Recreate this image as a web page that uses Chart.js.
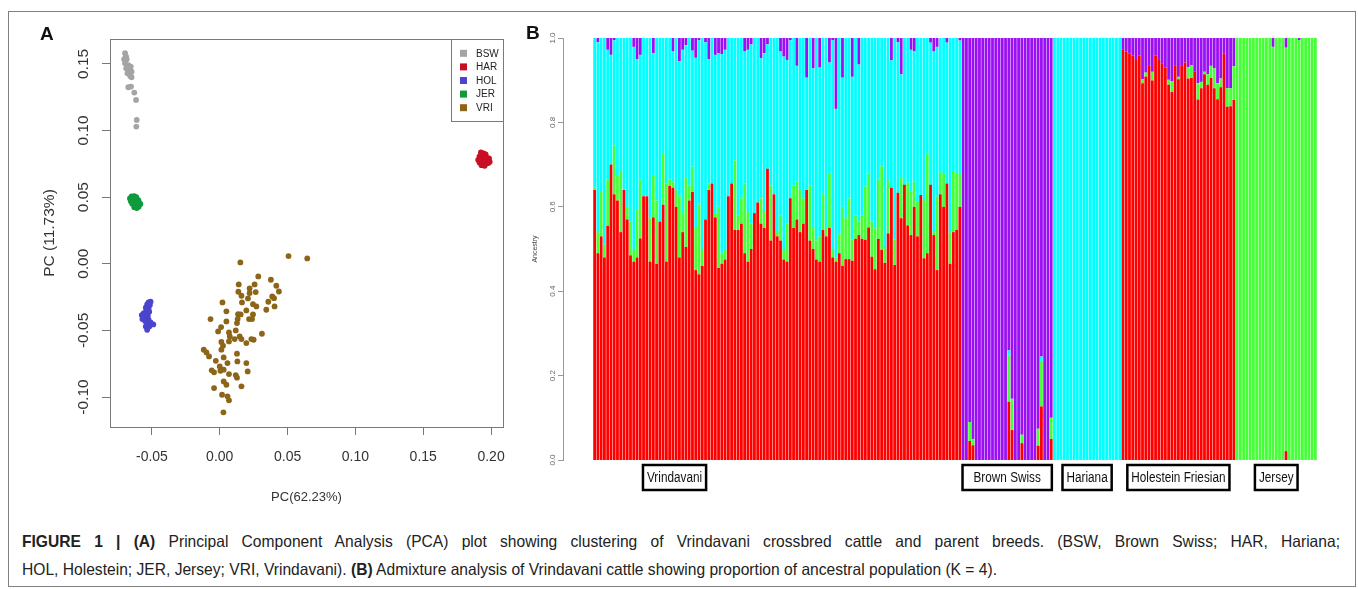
<!DOCTYPE html>
<html><head><meta charset="utf-8">
<script src="https://cdn.jsdelivr.net/npm/chart.js@4.4.1/dist/chart.umd.min.js"></script>
<style>
html,body{margin:0;padding:0;background:#fff;width:1358px;height:589px;overflow:hidden;font-family:"Liberation Sans",Arial,sans-serif;}
#frame{position:absolute;left:8px;top:11px;width:1348px;height:576px;border:1.5px solid #808080;box-sizing:border-box;}
#cA{position:absolute;left:0;top:0;}
#cB{position:absolute;left:520px;top:0;}
.lab{position:absolute;font-weight:bold;font-size:19px;color:#111;line-height:19px;}
#cap{position:absolute;left:22px;top:527px;font-size:16.5px;line-height:28px;color:#222;}
#cap .ln{display:inline-block;white-space:nowrap;transform-origin:0 50%;}
#cap b{font-weight:bold;}
</style></head>
<body>
<div id="frame"></div>
<canvas id="cA" width="520" height="520"></canvas>
<canvas id="cB" width="838" height="500"></canvas>
<div class="lab" style="left:40px;top:24px;">A</div>
<div class="lab" style="left:526px;top:23px;">B</div>
<div id="cap"><span id="l1" class="ln"><b>FIGURE 1 | (A)</b> Principal Component Analysis (PCA) plot showing clustering of Vrindavani crossbred cattle and parent breeds. (BSW, Brown Swiss; HAR, Hariana;</span><br><span id="l2" class="ln">HOL, Holestein; JER, Jersey; VRI, Vrindavani). <b>(B)</b> Admixture analysis of Vrindavani cattle showing proportion of ancestral population (K = 4).</span></div>
<script>
// ---------------- Panel A data (PCA) ----------------
const pcaSeriesNames = ['BSW','HAR','HOL','JER','VRI'];
const pcaXTicks = [-0.05, 0.00, 0.05, 0.10, 0.15, 0.20];
const pcaYTicks = [-0.10, -0.05, 0.00, 0.05, 0.10, 0.15];
const pcaXTitle = 'PC(62.23%)';
const pcaYTitle = 'PC (11.73%)';
const bswPoints = [[-0.0698,0.158],[-0.069,0.1555],[-0.0705,0.1535],[-0.0686,0.1535],[-0.0698,0.1505],[-0.0674,0.149],[-0.0656,0.148],[-0.069,0.1467],[-0.0667,0.145],[-0.065,0.1442],[-0.068,0.143],[-0.066,0.141],[-0.065,0.14],[-0.0674,0.1325],[-0.0654,0.133],[-0.063,0.1285],[-0.0617,0.123],[-0.0612,0.108],[-0.0615,0.103]];
const harPoints = [[0.1925,0.0835],[0.1945,0.0828],[0.1960,0.0820],[0.1915,0.0805],[0.1935,0.0800],[0.1970,0.0795],[0.1985,0.0790],[0.1905,0.0780],[0.1925,0.0775],[0.1950,0.0772],[0.1975,0.0770],[0.1990,0.0765],[0.1915,0.0760],[0.1940,0.0752],[0.1960,0.0748],[0.1980,0.0756],[0.1930,0.0740],[0.1952,0.0735]];
const holPoints = [[-0.0525,-0.0290],[-0.0510,-0.0285],[-0.0535,-0.0305],[-0.0515,-0.0310],[-0.0545,-0.0330],[-0.0525,-0.0335],[-0.0540,-0.0355],[-0.0520,-0.0360],[-0.0560,-0.0370],[-0.0545,-0.0380],[-0.0575,-0.0385],[-0.0530,-0.0390],[-0.0555,-0.0400],[-0.0540,-0.0410],[-0.0570,-0.0415],[-0.0525,-0.0420],[-0.0550,-0.0430],[-0.0510,-0.0440],[-0.0535,-0.0445],[-0.0490,-0.0455],[-0.0545,-0.0470],[-0.0520,-0.0470],[-0.0535,-0.0495]];
const jerPoints = [[-0.0650,0.0505],[-0.0630,0.0508],[-0.0615,0.0500],[-0.0662,0.0490],[-0.0640,0.0488],[-0.0620,0.0482],[-0.0600,0.0478],[-0.0655,0.0470],[-0.0635,0.0465],[-0.0610,0.0462],[-0.0590,0.0455],[-0.0645,0.0450],[-0.0625,0.0446],[-0.0605,0.0440],[-0.0585,0.0448],[-0.0630,0.0425],[-0.0612,0.0418],[-0.0598,0.0428]];
const vriPoints = [[0.0152,0.001],[0.0507,0.0058],[0.0645,0.004],[0.0284,-0.0095],[0.0377,-0.012],[0.014,-0.0155],[0.0257,-0.0155],[0.022,-0.0185],[0.0417,-0.0165],[0.0436,-0.0208],[0.0137,-0.021],[0.0265,-0.0212],[0.022,-0.022],[0.016,-0.024],[0.0387,-0.0245],[0.0208,-0.026],
[0.002,-0.029],[0.0358,-0.0285],[0.040,-0.0258],[0.0245,-0.0303],[0.027,-0.032],[0.0164,-0.029],[0.0049,-0.0357],[0.0154,-0.038],[0.0135,-0.0378],[0.0196,-0.035],[0.0343,-0.0345],[0.0404,-0.032],[0.0245,-0.038],[-0.0068,-0.0415],[0.0132,-0.0415],[0.0216,-0.0415],[0.0238,-0.0415],[0.0127,-0.0445],[0.0049,-0.0433],[0.001,-0.0475],[-0.0012,-0.0508],[0.0118,-0.05],[0.0068,-0.0515],[0.0074,-0.0545],[0.0147,-0.0545],[0.0311,-0.0525],[0.011,-0.0565],[0.016,-0.0565],[0.0233,-0.0565],[0.025,-0.057],[0.0196,-0.0595],[0.0012,-0.0587],[0.0068,-0.0583],[0.0024,-0.0615],[0.0012,-0.0645],[-0.0118,-0.0645],[-0.0098,-0.0665],[-0.0079,-0.0695],[0.0029,-0.0703],[0.0127,-0.0675],[0.013,-0.0733],[-0.0029,-0.0728],[0.0057,-0.0745],[0.0196,-0.0745],[0,-0.077],[-0.0059,-0.08],[-0.0042,-0.0815],[0.0005,-0.0803],[0.0029,-0.0795],[0.0206,-0.0808],[0.0068,-0.0828],[0.0118,-0.0835],[0.0127,-0.0855],[0.0029,-0.0883],[0.0049,-0.0908],[-0.0042,-0.0933],[0.016,-0.092],[0.0017,-0.0983],[0.0057,-0.0995],[0.0068,-0.1025],[0.0027,-0.1115]];

// ---------------- Panel B data (ADMIXTURE K=4) ----------------
const groupNames = ['Vrindavani','Brown Swiss','Hariana','Holestein Friesian','Jersey'];
const groupIds = ['VRI','BSW','HAR','HOL','JER'];
const admixYTicks = [0.0, 0.2, 0.4, 0.6, 0.8, 1.0];
const admixYTitle = 'Ancestry';
// components: red, green, cyan, purple (bottom -> top)
const vriRed = [0.64,0.49,0.53,0.48,0.555,0.70,0.63,0.615,0.54,0.64,
0.57,0.485,0.47,0.48,0.525,0.625,0.625,0.47,0.575,0.465,
0.565,0.605,0.47,0.65,0.645,0.60,0.48,0.54,0.505,0.615,
0.635,0.45,0.44,0.46,0.57,0.64,0.655,0.575,0.455,0.465,
0.475,0.625,0.655,0.545,0.545,0.56,0.49,0.47,0.50,0.585,
0.61,0.56,0.55,0.69,0.52,0.63,0.53,0.52,0.475,0.47,
0.62,0.55,0.57,0.54,0.56,0.64,0.52,0.50,0.475,0.47,
0.545,0.53,0.55,0.48,0.47,0.49,0.46,0.476,0.476,0.472,
0.524,0.533,0.524,0.522,0.551,0.482,0.452,0.524,0.498,0.467,
0.537,0.645,0.462,0.633,0.573,0.652,0.556,0.533,0.60,0.53,
0.628,0.478,0.49,0.652,0.533,0.45,0.63,0.60,0.655,0.465,
0.54,0.545,0.60];
const vriGreen = [0.005,0.05,0.105,0.03,0.11,0,0.115,0.06,0.145,0,
0.03,0.08,0.03,0.115,0.14,0,0,0.105,0.10,0.15,
0,0.12,0.185,0.015,0.015,0.04,0.145,0.045,0.165,0.035,
0.06,0.10,0.165,0.04,0,0.015,0,0.01,0.145,0.025,
0.025,0,0,0.165,0.035,0.06,0.165,0.12,0.06,0,
0,0.06,0.04,0,0.13,0,0.01,0.06,0.025,0.09,
0,0.10,0.09,0.10,0.06,0,0.13,0.05,0.045,0.06,
0.085,0.02,0.13,0.02,0.01,0.045,0.14,0.097,0.144,0.05,
0.056,0.032,0.056,0.126,0.128,0.083,0.097,0.14,0.198,0.035,
0.127,0,0.06,0,0.095,0,0.101,0.103,0.06,0.082,
0,0.138,0.237,0,0.007,0.175,0.053,0.08,0,0.075,
0.145,0.135,0.08];
const vriCyan = [0.355,0.45,0.365,0.49,0.307,0.26,0.25,0.325,0.315,0.36,
0.40,0.435,0.479,0.355,0.295,0.375,0.375,0.425,0.289,0.385,
0.435,0.275,0.345,0.335,0.308,0.36,0.32,0.387,0.313,0.35,
0.275,0.403,0.39,0.50,0.42,0.295,0.345,0.375,0.364,0.472,
0.472,0.375,0.345,0.29,0.42,0.38,0.313,0.382,0.425,0.415,
0.39,0.332,0.374,0.295,0.35,0.37,0.46,0.388,0.456,0.388,
0.375,0.35,0.274,0.36,0.38,0.266,0.35,0.378,0.48,0.40,
0.37,0.45,0.262,0.495,0.352,0.465,0.306,0.427,0.38,0.386,
0.42,0.372,0.42,0.352,0.321,0.435,0.451,0.336,0.304,0.498,
0.336,0.302,0.478,0.357,0.246,0.348,0.343,0.336,0.308,0.388,
0.372,0.384,0.273,0.337,0.428,0.354,0.317,0.32,0.334,0.46,
0.315,0.32,0.314];
const vriPurple = [0,0.01,0,0,0.028,0.04,0.005,0,0,0,
0,0,0.021,0.05,0.04,0,0,0,0.036,0,
0,0,0,0,0.032,0,0.055,0.028,0.017,0,
0.03,0.047,0.005,0,0.01,0.05,0,0.04,0.036,0.038,
0.028,0,0,0,0,0,0.032,0.028,0.015,0,
0,0.048,0.036,0.015,0,0,0,0.032,0.044,0.052,
0.005,0,0.066,0,0,0.094,0,0.072,0,0.07,
0,0,0.058,0.005,0.168,0,0.094,0,0,0.092,
0,0.063,0,0,0,0,0,0,0,0,
0,0.053,0,0.01,0.086,0,0,0.028,0.032,0,
0,0,0,0.011,0.032,0.021,0,0,0.011,0,
0,0,0.006];
const bswRed = [0,0,0.045,0.035,0,0,0,0,0,0,0,0,0,0,0.138,0.071,0,0,0.04,0,0,0,0,0.034,0.127,0,0,0.05];
const bswGreen = [0,0,0.045,0.015,0,0,0,0,0,0,0,0,0,0,0.11,0.071,0,0,0.02,0,0,0,0,0.04,0.108,0,0,0.05];
const bswCyan = [0,0,0,0,0,0,0,0,0,0,0,0,0,0,0.012,0.003,0,0,0,0,0,0,0,0,0.01,0,0,0];
const bswPurple = [1,1,0.91,0.95,1,1,1,1,1,1,1,1,1,1,0.74,0.855,1,1,0.94,1,1,1,1,0.926,0.755,1,1,0.90];
const harRed = [0,0,0,0,0,0,0,0,0,0,0,0,0,0,0,0,0,0,0,0,0];
const harGreen = [0,0,0,0,0,0,0,0,0,0,0,0,0,0,0,0,0,0,0,0,0];
const harCyan = [1,1,1,1,1,1,1,1,1,1,1,1,1,1,1,1,1,1,1,1,1];
const harPurple = [0,0,0,0,0,0,0,0,0,0,0,0,0,0,0,0,0,0,0,0,0];
const holRed = [0.972,0.968,0.964,0.958,0.948,0.958,0.893,0.909,0.934,0.899,0.958,0.948,0.94,0.93,0.889,0.872,0.934,0.902,0.934,0.942,0.904,0.905,0.92,0.854,0.881,0.914,0.889,0.905,0.881,0.855,0.883,0.964,0.837,0.838,0.853];
const holGreen = [0,0,0,0,0,0,0.009,0.009,0,0.021,0,0,0,0,0.012,0.026,0,0.006,0,0,0.027,0.031,0,0.039,0.015,0.006,0.025,0.029,0.047,0.038,0.021,0,0.044,0.043,0.08];
const holCyan = [0,0,0,0,0,0,0,0,0,0,0,0,0,0,0,0,0,0,0,0,0,0,0,0,0,0,0,0,0,0,0,0,0,0,0];
const holPurple = [0.028,0.032,0.036,0.042,0.052,0.042,0.098,0.082,0.066,0.08,0.042,0.052,0.06,0.07,0.099,0.102,0.066,0.092,0.066,0.058,0.069,0.064,0.08,0.107,0.104,0.08,0.086,0.066,0.072,0.107,0.096,0.036,0.119,0.119,0.067];
const jerRed = [0,0,0,0,0,0,0,0,0,0,0,0,0,0,0,0.021,0,0,0,0,0,0,0,0,0];
const jerGreen = [1,1,1,1,1,1,1,1,1,1,1,0.979,1,1,1,0.956,1,1,1,0.995,1,1,1,1,1];
const jerCyan = [0,0,0,0,0,0,0,0,0,0,0,0,0,0,0,0,0,0,0,0,0,0,0,0,0];
const jerPurple = [0,0,0,0,0,0,0,0,0,0,0,0.021,0,0,0,0.023,0,0,0,0.005,0,0,0,0,0];

// ---------------- build ----------------
const FONT = '"Liberation Sans", Arial, sans-serif';
Chart.defaults.font.family = FONT;
const fmt2 = v => (Math.abs(v) < 1e-9 ? 0 : v).toFixed(2);

const pcaColors = ['#a4a4a4','#c80f23','#4b44cc','#0f9a3c','#8c6518'];
const pcaSets = [bswPoints, harPoints, holPoints, jerPoints, vriPoints];

const rBox = {
  id: 'rBox',
  afterDraw(chart) {
    const {ctx, chartArea: a} = chart;
    ctx.save();
    ctx.strokeStyle = '#7a7a7a'; ctx.lineWidth = 1;
    ctx.strokeRect(Math.round(a.left) + 0.5, Math.round(a.top) + 0.5, Math.round(a.right - a.left), Math.round(a.bottom - a.top));
    // legend (top-right, inside plot)
    const w = 52, h = 82, x = Math.round(a.right) - w, y = Math.round(a.top);
    ctx.fillStyle = '#fff'; ctx.fillRect(x, y, w, h);
    ctx.strokeRect(x + 0.5, y + 0.5, w, h);
    ctx.font = '10px ' + FONT; ctx.textBaseline = 'middle'; ctx.textAlign = 'left';
    chart.data.datasets.forEach((ds, i) => {
      const cy = y + 14.3 + i * 13.6;
      ctx.fillStyle = ds.backgroundColor; ctx.fillRect(x + 9, cy - 3.5, 7, 7);
      ctx.fillStyle = '#222'; ctx.fillText(ds.label, x + 25, cy + 0.5);
    });
    ctx.restore();
  }
};

new Chart(document.getElementById('cA'), {
  type: 'scatter',
  data: {
    datasets: pcaSets.map((pts, i) => ({
      label: pcaSeriesNames[i],
      data: pts.map(([x, y]) => ({x, y})),
      backgroundColor: pcaColors[i], borderWidth: 0, pointRadius: 2.9, pointHoverRadius: 2.9
    }))
  },
  options: {
    responsive: false, animation: false, devicePixelRatio: 1,
    layout: {padding: {left: 0, top: 39, right: 17, bottom: 0}},
    plugins: {legend: {display: false}, tooltip: {enabled: false}},
    scales: {
      x: {
        type: 'linear', min: -0.0809, max: 0.2088,
        afterBuildTicks: s => { s.ticks = pcaXTicks.map(v => ({value: v})); },
        ticks: {callback: v => fmt2(v), font: {size: 14}, color: '#333', padding: 14, maxRotation: 0},
        grid: {drawOnChartArea: false, tickLength: 8, tickColor: '#777'},
        border: {display: true, color: '#7a7a7a'},
        title: {display: true, text: pcaXTitle, font: {size: 13}, color: '#333', padding: {top: 0, bottom: 15}},
        afterFit: s => { s.height = 93; }
      },
      y: {
        type: 'linear', min: -0.1225, max: 0.1687,
        afterBuildTicks: s => { s.ticks = pcaYTicks.map(v => ({value: v})); },
        ticks: {callback: v => fmt2(v), font: {size: 15.5}, color: '#333', padding: 1, minRotation: 90, maxRotation: 90, crossAlign: 'center'},
        grid: {drawOnChartArea: false, tickLength: 8, tickColor: '#777'},
        border: {display: true, color: '#7a7a7a'},
        title: {display: true, text: pcaYTitle, font: {size: 15.5}, color: '#333', padding: {top: 40, bottom: 0}},
        afterFit: s => { s.width = 110; }
      }
    }
  },
  plugins: [rBox]
});

// ---- admixture ----
const compRed = vriRed.concat(bswRed, harRed, holRed, jerRed);
const compGreen = vriGreen.concat(bswGreen, harGreen, holGreen, jerGreen);
const compCyan = vriCyan.concat(bswCyan, harCyan, holCyan, jerCyan);
const compPurple = vriPurple.concat(bswPurple, harPurple, holPurple, jerPurple);
const groupSizes = [vriRed.length, bswRed.length, harRed.length, holRed.length, jerRed.length];
const sampleLabels = [];
groupIds.forEach((g, gi) => { for (let k = 0; k < groupSizes[gi]; k++) sampleLabels.push(g + (k + 1)); });

const compColors = ['#ff0000', '#46ff38', '#00ffff', '#9a10f2'];
const compNames = ['K1', 'K2', 'K3', 'K4'];

const groupBoxes = {
  id: 'groupBoxes',
  afterDraw(chart) {
    const {ctx} = chart;
    const xs = chart.scales.x;
    const squeeze = 0.84;
    ctx.save();
    ctx.font = '14px ' + FONT;
    ctx.textAlign = 'center'; ctx.textBaseline = 'middle';
    let start = 0;
    groupNames.forEach((name, gi) => {
      const n = groupSizes[gi];
      // Vrindavani label sits near the left of its block, the others are centred
      const centreIdx = gi === 0 ? start + 24.5 : start + (n - 1) / 2;
      const cx = xs.getPixelForValue(centreIdx);
      const tw = ctx.measureText(name).width * squeeze;
      const bw = tw + (gi === 1 ? 22 : 8), bh = 25;
      const top = chart.chartArea.bottom + 5;
      ctx.lineWidth = 2.5; ctx.strokeStyle = '#000';
      ctx.strokeRect(cx - bw / 2, top, bw, bh);
      ctx.fillStyle = '#111';
      ctx.save();
      ctx.translate(cx, top + bh / 2 + 0.5);
      ctx.scale(squeeze, 1);
      ctx.fillText(name, 0, 0);
      ctx.restore();
      start += n;
    });
    ctx.restore();
  }
};

new Chart(document.getElementById('cB'), {
  type: 'bar',
  data: {
    labels: sampleLabels,
    datasets: [compRed, compGreen, compCyan, compPurple].map((d, i) => ({
      label: compNames[i], data: d, backgroundColor: compColors[i], borderWidth: 0,
      barPercentage: 0.86, categoryPercentage: 1
    }))
  },
  options: {
    responsive: false, animation: false, devicePixelRatio: 1,
    layout: {padding: {left: 0, top: 38, right: 41, bottom: 40}},
    plugins: {legend: {display: false}, tooltip: {enabled: false}},
    scales: {
      x: {stacked: true, display: false},
      y: {
        stacked: true, min: 0, max: 1, position: 'left', weight: 0,
        ticks: {display: false}, grid: {display: false}, border: {display: false},
        afterFit: s => { s.width = 30; }
      },
      yAxis: {
        type: 'linear', position: 'left', weight: 1, min: 0, max: 1,
        afterBuildTicks: s => { s.ticks = admixYTicks.map(v => ({value: v})); },
        ticks: {callback: v => v.toFixed(1), font: {size: 8}, color: '#666', padding: 0, minRotation: 90, maxRotation: 90, crossAlign: 'center'},
        grid: {drawOnChartArea: false, tickLength: 5, tickColor: '#999'},
        border: {display: true, color: '#999'},
        title: {display: true, text: admixYTitle, font: {size: 7}, color: '#444', padding: {top: 11, bottom: 0}},
        afterFit: s => { s.width = 43; }
      }
    }
  },
  plugins: [groupBoxes]
});

// caption: slightly condensed face; line 1 justified to the full text width
(function(){
  const l1 = document.getElementById('l1');
  const l2 = document.getElementById('l2');
  const w2 = l2.getBoundingClientRect().width;
  const k = 975 / w2;
  const w1 = l1.getBoundingClientRect().width;
  const spaces = (l1.textContent.match(/ /g) || []).length;
  const extra = Math.max(0, (1318 / k - w1) / spaces);
  l1.style.wordSpacing = extra.toFixed(3) + 'px';
  l1.style.transform = 'scaleX(' + k.toFixed(4) + ')';
  l2.style.transform = 'scaleX(' + k.toFixed(4) + ')';
})();
</script>
</body></html>
